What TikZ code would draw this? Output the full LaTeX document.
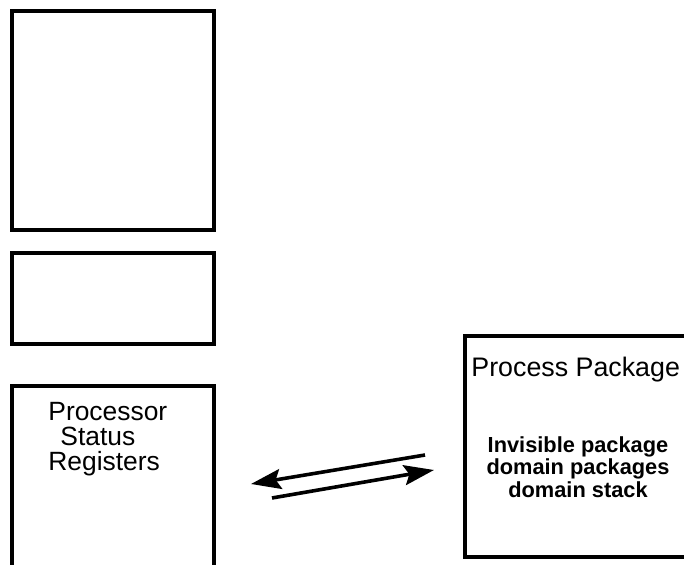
\documentclass[tikz,border=0pt]{standalone}
\usepackage{fontspec}
\setmainfont{Liberation Sans}
\usetikzlibrary{arrows.meta}
\tikzset{
  box/.style={draw=black, line width=2.4pt},
  head/.style={font=\fontsize{13.4}{14}\selectfont},
  lbl/.style={font=\fontsize{13.2}{12.4}\selectfont, align=left},
  small/.style={font=\bfseries\fontsize{10.9}{8.3}\selectfont, align=center},
  flow/.style={line width=1.8pt, -{Stealth[length=15pt,width=10pt,inset=2.5pt]}}
}

\begin{document}
\begin{tikzpicture}[x=0.5pt,y=-0.5pt]
  \useasboundingbox (0,0) rectangle (684,565);
  \clip (0,0) rectangle (684,565);

  % stack of boxes on the left
  \draw[box] (12,11) rectangle (214,230);
  \draw[box] (12,253) rectangle (214,344);
  \draw[box] (12,386) rectangle (214,620);
  \node[lbl, anchor=west, inner sep=0pt] (psr) at (48,439) {Processor\\\hspace{6pt}Status\\Registers};

  % package box on the right
  \draw[box] (465,336) rectangle (720,557);
  \node[head, anchor=west, inner sep=0pt] (pp) at (471,370) {Process Package};
  \node[small] (dom) at (578,467) {Invisible package\\domain packages\\domain stack};

  % the two arrows between them
  \coordinate (a1) at (425,455);
  \coordinate (a2) at (251,484);
  \coordinate (b1) at (272,498);
  \coordinate (b2) at (434,470);
  \draw[flow] (a1) -- (a2);
  \draw[flow] (b1) -- (b2);
\end{tikzpicture}
\end{document}
